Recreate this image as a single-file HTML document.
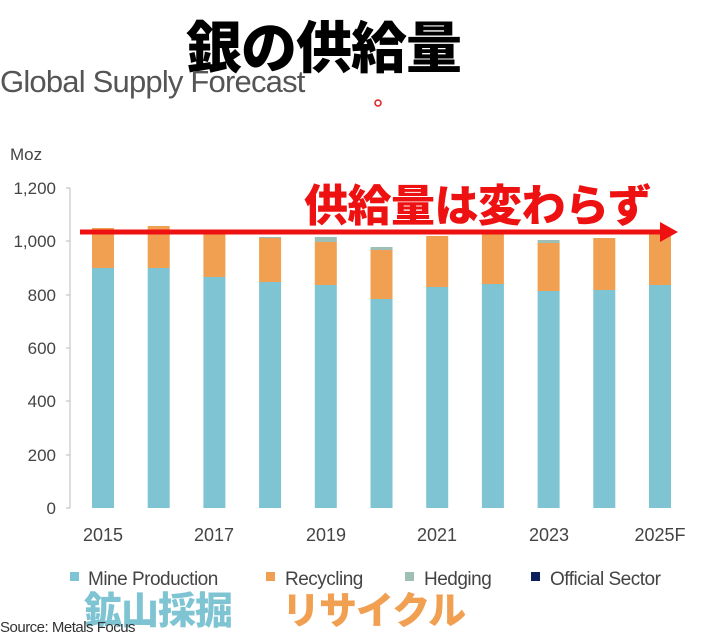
<!DOCTYPE html>
<html><head><meta charset="utf-8"><style>
body{margin:0;width:711px;height:641px;background:#fff;overflow:hidden;position:relative;font-family:"Liberation Sans","Noto Sans CJK JP",sans-serif}
.a{position:absolute;white-space:nowrap}
</style></head><body>
<svg width="711" height="641" style="position:absolute;left:0;top:0">
<g font-family="Liberation Sans, sans-serif" fill="#444" font-size="17">
<text x="10" y="160">Moz</text>
<g text-anchor="end">
<text x="56" y="194">1,200</text><text x="56" y="247">1,000</text><text x="56" y="301">800</text>
<text x="56" y="354">600</text><text x="56" y="407">400</text><text x="56" y="461">200</text><text x="56" y="514">0</text>
</g>
<g text-anchor="middle" font-size="18">
<text x="103" y="541">2015</text><text x="214" y="541">2017</text><text x="326" y="541">2019</text>
<text x="437" y="541">2021</text><text x="549" y="541">2023</text><text x="660" y="541">2025F</text>
</g>
</g>
<path d="M70 188V508M66 188H70M66 241H70M66 295H70M66 348H70M66 401H70M66 455H70M66 508H70" stroke="#bbb" stroke-width="1" fill="none"/>
<g id="bars"></g>
<circle cx="378" cy="103" r="3" fill="none" stroke="#e02020" stroke-width="1.5"/>
<line x1="80" y1="232" x2="662" y2="232" stroke="#ee1111" stroke-width="5"/>
<polygon points="660,222 678,232 660,242" fill="#ee1111"/>
<g font-size="19" font-family="Liberation Sans, sans-serif" fill="#444" letter-spacing="-0.5">
<rect x="70" y="572" width="9" height="9" fill="#7ec4d2"/><text x="88" y="585">Mine Production</text>
<rect x="266" y="572" width="9" height="9" fill="#f0a050"/><text x="285" y="585">Recycling</text>
<rect x="405" y="572" width="9" height="9" fill="#9dbfb5"/><text x="424" y="585">Hedging</text>
<rect x="531" y="572" width="9" height="9" fill="#0c1f5c"/><text x="550" y="585">Official Sector</text>
</g>
</svg>
<div class="a" style="left:186px;top:4px;font-size:56px;font-weight:900;color:#000;text-shadow:0 0 3px #fff,2px 2px 0 #fff,-2px -2px 0 #fff;letter-spacing:-1px">銀の供給量</div>
<div class="a" style="left:0;top:64px;font-size:31px;color:#555;letter-spacing:-0.8px">Global Supply Forecast</div>
<div class="a" style="left:304px;top:170px;font-size:44px;font-weight:900;color:#ee1111;letter-spacing:-0.5px">供給量は変わらず</div>
<div class="a" style="left:84px;top:580px;font-size:38px;font-weight:900;color:#7ec4d2;letter-spacing:-1px">鉱山採掘</div>
<div class="a" style="left:282px;top:580px;font-size:38px;font-weight:900;color:#f0a050;letter-spacing:-1px">リサイクル</div>
<div class="a" style="left:0;top:619px;font-size:15px;color:#333;letter-spacing:-0.5px">Source: Metals Focus</div>
<script>
var d=[[268,228,228],[268,226,226],[277,230,230],[282,238,237],[285,242,237],[299,250,247],[287,236,236],[284,230,230],[291,243,240],[290,238,238],[285,230,230]];
var s='';d.forEach(function(v,i){var x=103+i*55.7-11;
s+='<rect x="'+x+'" y="'+v[0]+'" width="22" height="'+(508-v[0])+'" fill="#7ec4d2"/>';
s+='<rect x="'+x+'" y="'+v[1]+'" width="22" height="'+(v[0]-v[1])+'" fill="#f0a050"/>';
if(v[2]<v[1])s+='<rect x="'+x+'" y="'+v[2]+'" width="22" height="'+(v[1]-v[2])+'" fill="#9dbfb5"/>';});
document.getElementById('bars').innerHTML=s;
</script>
</body></html>
